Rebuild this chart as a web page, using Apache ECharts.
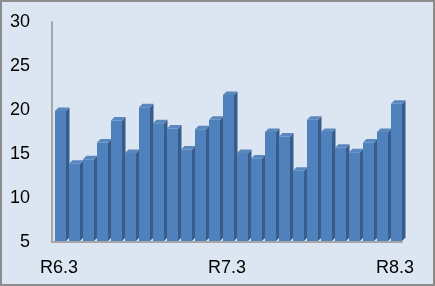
<!DOCTYPE html>
<html>
<head>
<meta charset="utf-8">
<script src="https://cdn.jsdelivr.net/npm/echarts@6/dist/echarts.min.js"></script>
<style>
html,body{margin:0;padding:0;background:#fff;}
#c{width:435px;height:286px;box-sizing:border-box;border:2px solid #8C8C8C;background:#DCE6F2;}
</style>
</head>
<body>
<div id="c"></div>
<script>
const categories = ["R6.3","R6.4","R6.5","R6.6","R6.7","R6.8","R6.9","R6.10","R6.11","R6.12","R7.1","R7.2","R7.3","R7.4","R7.5","R7.6","R7.7","R7.8","R7.9","R7.10","R7.11","R7.12","R8.1","R8.2","R8.3"];
const values = [19.9, 13.9, 14.4, 16.3, 18.8, 15.1, 20.3, 18.5, 17.9, 15.5, 17.8, 18.9, 21.7, 15.1, 14.5, 17.5, 17.0, 13.1, 18.9, 17.5, 15.7, 15.2, 16.3, 17.5, 20.7];
const yTicks = [5, 10, 15, 20, 25, 30];
const shownLabels = ["R6.3", "R7.3", "R8.3"];

const chart = echarts.init(document.getElementById('c'), null, {renderer: 'canvas'});
const font = '"Liberation Sans", Arial, sans-serif';
chart.setOption({
  backgroundColor: 'transparent',
  animation: false,
  grid: {left: 50, right: 31, top: 20, bottom: 42},
  xAxis: {
    type: 'category',
    data: categories,
    boundaryGap: true,
    axisLine: {show: true, lineStyle: {color: '#A6A6A6', width: 2}},
    axisTick: {show: false},
    axisLabel: {
      interval: 0,
      formatter: v => shownLabels.includes(v) ? v : '',
      color: '#000', fontSize: 18, fontFamily: font, margin: 17
    }
  },
  yAxis: {
    type: 'value',
    min: yTicks[0], max: yTicks[yTicks.length - 1], interval: 5,
    axisLine: {show: true, lineStyle: {color: '#A6A6A6', width: 2}},
    axisTick: {show: false},
    splitLine: {show: false},
    axisLabel: {color: '#000', fontSize: 18, fontFamily: font, margin: 22}
  },
  series: [{
    type: 'custom',
    data: values.map((v, i) => [i, v]),
    encode: {x: 0, y: 1},
    renderItem: function (params, api) {
      const idx = api.value(0), val = api.value(1);
      const top = api.coord([idx, val]);
      const base = api.coord([idx, yTicks[0]]);
      const w = 11, d = 3.5;
      const fx = top[0] - 4;
      const ty = top[1], by = base[1] - 1;
      return {
        type: 'group',
        children: [
          {type: 'rect', shape: {x: fx, y: ty, width: w, height: by - ty}, style: {fill: '#4F81BD'}},
          {type: 'polygon', shape: {points: [[fx + w, ty], [fx + w + d, ty - d], [fx + w + d, by - d], [fx + w, by]]}, style: {fill: '#385D8A'}},
          {type: 'polygon', shape: {points: [[fx, ty], [fx + d, ty - d], [fx + w + d, ty - d], [fx + w, ty]]}, style: {fill: '#5A87BE'}}
        ]
      };
    }
  }]
});
</script>
</body>
</html>
